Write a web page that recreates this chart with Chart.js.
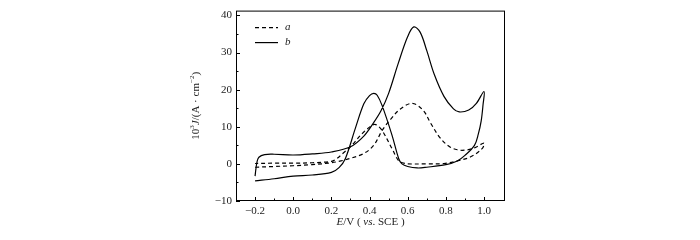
<!DOCTYPE html>
<html>
<head>
<meta charset="utf-8">
<script src="https://cdn.jsdelivr.net/npm/chart.js@4"></script>
<style>
  html, body { margin: 0; padding: 0; background: #fff; }
  #wrap { width: 700px; height: 240px; }
</style>
</head>
<body>
<div id="wrap"><canvas id="myChart" width="700" height="240"></canvas></div>
<script>
// curve a (dashed): forward scan then reverse scan
var aE = [-0.2, -0.1, 0, 0.1, 0.2, 0.25, 0.3, 0.37, 0.422, 0.466, 0.51, 0.562, 0.623, 0.68, 0.72, 0.77, 0.82, 0.86, 0.9, 0.95, 1.0,
          0.99, 0.93, 0.86, 0.79, 0.7, 0.6, 0.58, 0.553, 0.518, 0.466, 0.44, 0.422, 0.37, 0.3, 0.264, 0.23, 0.2, 0.1, 0, -0.1, -0.2];
var aJ = [-0.9, -0.7, -0.5, -0.2, 0.3, 0.8, 1.5, 2.8, 5, 9, 12, 14.8, 16.3, 14.5, 11, 7, 4.6, 3.8, 3.7, 4.3, 5.6,
          4.1, 1.9, 0.8, 0.1, 0, 0, 0.2, 0.8, 4.1, 9, 10.4, 10.6, 8.6, 4.6, 3.0, 1.5, 0.7, 0.3, 0.2, 0.2, 0.1];

// curve b (solid)
var bE = [-0.2, -0.196, -0.19, -0.18, -0.15, -0.1, 0, 0.1, 0.2, 0.3, 0.37, 0.42, 0.46, 0.5, 0.55, 0.6, 0.632, 0.665, 0.7, 0.74, 0.79, 0.84, 0.87, 0.92, 0.96, 1.0,
          0.995, 0.985, 0.97, 0.95, 0.9, 0.86, 0.8, 0.7, 0.65, 0.6, 0.57, 0.553, 0.518, 0.466, 0.44, 0.422, 0.4, 0.37, 0.325, 0.273, 0.24, 0.2, 0.1, 0, -0.1, -0.2];
var bJ = [-3.3, -1.5, 0.5, 1.8, 2.5, 2.6, 2.4, 2.7, 3.2, 4.6, 7.5, 11.0, 14.3, 19.0, 27.0, 34.3, 36.9, 35.5, 30.5, 24.0, 18.2, 14.8, 14.0, 14.5, 16.3, 19.5,
          16, 11.5, 8, 5, 2.3, 0.8, -0.2, -0.9, -1.1, -0.7, 0, 1.4, 7.7, 15.7, 18.5, 19.0, 18.4, 16.2, 9.5, 1.4, -1, -2.3, -3.0, -3.3, -4.0, -4.6];

var seriesLabels = ['a', 'b'];
var xTicks = [-0.2, 0.0, 0.2, 0.4, 0.6, 0.8, 1.0];
var xMinorTicks = [-0.1, 0.1, 0.3, 0.5, 0.7, 0.9];
var yTicks = [-10, 0, 10, 20, 30, 40];
var yMinorTicks = [-5, 5, 15, 25, 35];

function pts(xs, ys) {
    return xs.map(function (x, i) { return { x: x, y: ys[i] }; });
}
function minus(s) { return s.replace('-', '\u2212'); }

var serif = '"Liberation Serif", "DejaVu Serif", serif';

var frame = {
    id: 'frame',
    afterDraw: function (chart) {
        var c = chart.ctx, a = chart.chartArea;
        var xs = chart.scales.x, ys = chart.scales.y;
        c.save();
        c.strokeStyle = '#000';
        c.lineWidth = 1;
        c.strokeRect(a.left + 0.5, a.top + 0.5, a.right - a.left - 1, a.bottom - a.top - 1);
        c.beginPath();
        xTicks.concat(xMinorTicks).forEach(function (v) {
            var len = xTicks.indexOf(v) >= 0 ? 4 : 2.5;
            var px = Math.round(xs.getPixelForValue(v)) + 0.5;
            c.moveTo(px, a.bottom);
            c.lineTo(px, a.bottom - len);
        });
        yTicks.concat(yMinorTicks).forEach(function (v) {
            var len = yTicks.indexOf(v) >= 0 ? 4 : 2.5;
            var py = Math.round(ys.getPixelForValue(v)) + 0.5;
            c.moveTo(a.left, py);
            c.lineTo(a.left + len, py);
        });
        c.stroke();

        // legend
        chart.data.datasets.forEach(function (ds, i) {
            var y = a.top + 17 + i * 15;
            c.beginPath();
            c.setLineDash(ds.borderDash || []);
            c.lineWidth = 1.2;
            c.moveTo(a.left + 19, y);
            c.lineTo(a.left + 42, y);
            c.stroke();
            c.setLineDash([]);
            c.fillStyle = '#222';
            c.font = 'italic 11px ' + serif;
            c.textBaseline = 'middle';
            c.fillText(ds.label, a.left + 49, y);
        });

        // axis titles
        function drawParts(parts, x, y) {
            var total = 0;
            parts.forEach(function (p) { c.font = p[1]; total += c.measureText(p[0]).width; });
            var cx = x - total / 2;
            parts.forEach(function (p) {
                c.font = p[1];
                c.fillText(p[0], cx, y + (p[2] || 0));
                cx += c.measureText(p[0]).width;
            });
        }
        c.fillStyle = '#222';
        c.textBaseline = 'middle';
        c.textAlign = 'left';
        var n = '11px ' + serif, it = 'italic 11px ' + serif, sm = '7px ' + serif;
        drawParts([['E', it], ['/V ( ', n], ['vs', it], ['. SCE )', n]], (a.left + a.right) / 2, 222);

        c.translate(196, (a.top + a.bottom) / 2);
        c.rotate(-Math.PI / 2);
        drawParts([['10', n], ['3', sm, -4], ['J', it], ['/(A \u00b7 cm', n], ['\u22122', sm, -4], [')', n]], 0, 0);
        c.restore();
    }
};

var ctx = document.getElementById('myChart').getContext('2d');
var myChart = new Chart(ctx, {
    type: 'scatter',
    data: {
        datasets: [{
            label: seriesLabels[0],
            data: pts(aE, aJ),
            showLine: true,
            borderColor: '#000',
            borderWidth: 1.2,
            borderDash: [4, 3],
            pointRadius: 0,
            tension: 0.35
        }, {
            label: seriesLabels[1],
            data: pts(bE, bJ),
            showLine: true,
            borderColor: '#000',
            borderWidth: 1.2,
            pointRadius: 0,
            tension: 0.35
        }]
    },
    options: {
        responsive: false,
        animation: false,
        layout: { padding: { left: 176, right: 195, top: 8, bottom: 0 } },
        plugins: {
            legend: { display: false },
            tooltip: { enabled: false }
        },
        scales: {
            x: {
                type: 'linear',
                min: -0.3,
                max: 1.11,
                afterBuildTicks: function (s) { s.ticks = xTicks.map(function (v) { return { value: v }; }); },
                afterFit: function (s) { s.height = 39; },
                grid: { display: false, drawTicks: false },
                border: { display: false },
                ticks: {
                    padding: 4,
                    color: '#222',
                    font: { family: serif, size: 11 },
                    callback: function (v) { return minus(Number(v).toFixed(1)); }
                }
            },
            y: {
                min: -10,
                max: 41.3,
                afterBuildTicks: function (s) { s.ticks = yTicks.map(function (v) { return { value: v }; }); },
                afterFit: function (s) { s.width = 60; },
                grid: { display: false, drawTicks: false },
                border: { display: false },
                ticks: {
                    padding: 4,
                    color: '#222',
                    font: { family: serif, size: 11 },
                    callback: function (v) { return minus(String(v)); }
                }
            }
        }
    },
    plugins: [frame]
});
</script>
</body>
</html>
